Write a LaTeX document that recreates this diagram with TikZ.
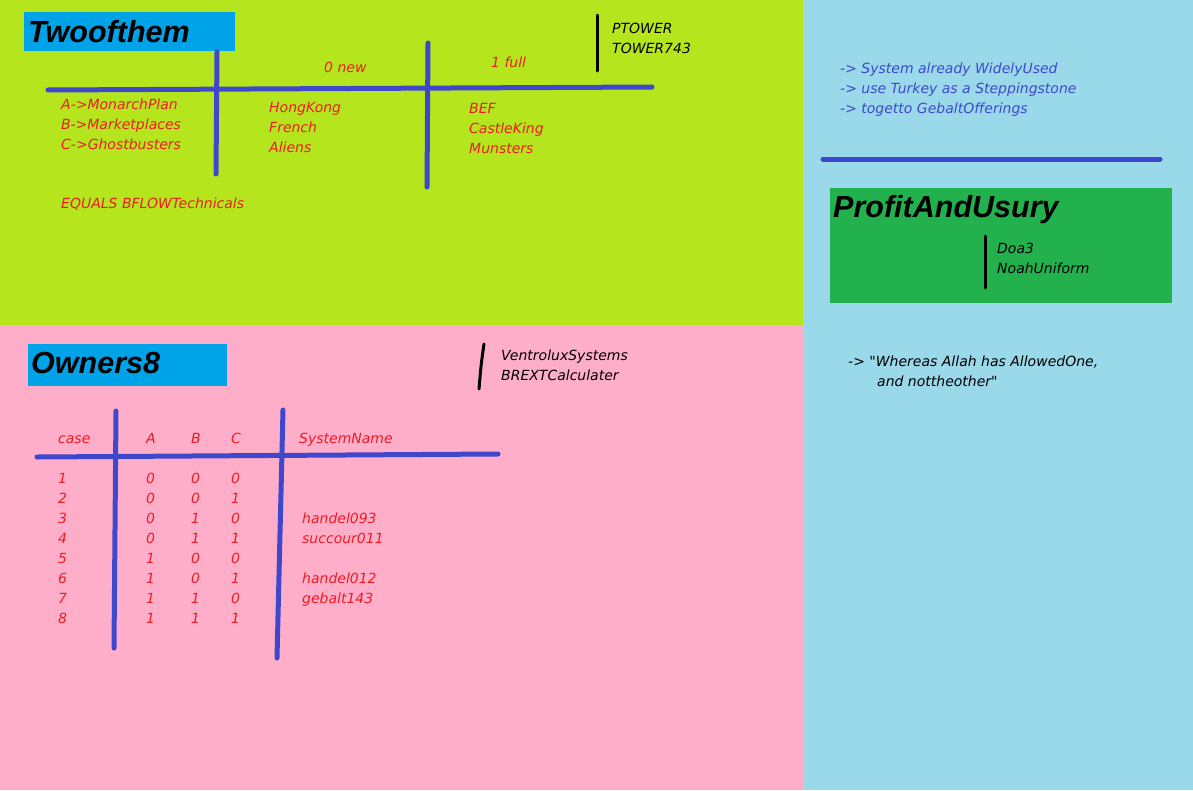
\documentclass[tikz,border=0pt]{standalone}
\usepackage{fontspec}
\setmainfont{Liberation Sans}
\newfontfamily\corpo{DejaVu Sans}
\definecolor{lima}{RGB}{181,230,29}
\definecolor{rosa}{RGB}{255,174,201}
\definecolor{celeste}{RGB}{153,217,234}
\definecolor{azulcaixa}{RGB}{0,162,232}
\definecolor{verdecaixa}{RGB}{34,177,76}
\definecolor{azullinha}{RGB}{63,72,204}
\definecolor{vermelho}{RGB}{237,28,36}

\begin{document}
\begin{tikzpicture}[x=1pt, y=-1pt,
        texto/.style={anchor=base west, inner sep=0pt, font=\corpo\itshape\fontsize{14}{16}\selectfont, text=vermelho},
        textopreto/.style={texto, text=black},
        textoazul/.style={texto, text=azullinha},
        titulo/.style={anchor=base west, inner sep=0pt, font=\fontsize{30.5}{32}\selectfont\bfseries\itshape},
        linha/.style={azullinha, line width=5pt, line cap=round},
        traco/.style={black, line width=3pt, line cap=round},
    ]
    \useasboundingbox (0,0) rectangle (1193,790);

    % fundos
    \fill[lima] (0,0) rectangle (803,325);
    \fill[rosa] (0,325) rectangle (803,790);
    \fill[celeste] (803,0) rectangle (1193,790);

    % Twoofthem
    \fill[azulcaixa] (24,12) rectangle (235,51);
    \node[titulo] (twoofthem) at (28,42) {Twoofthem};

    \draw[linha] (48,90) -- (652,87);
    \draw[linha] (217,52) -- (216,174);
    \draw[linha] (428,43) -- (427,187);

    \node[texto] (novo) at (324,72) {0 new};
    \node[texto] (cheio) at (491,67) {1 full};

    \foreach \t [count=\i] in {A->MonarchPlan, B->Marketplaces, C->Ghostbusters}
        \node[texto] (esq\i) at (61,89+20*\i) {\t};
    \foreach \t [count=\i] in {HongKong, French, Aliens}
        \node[texto] (meio\i) at (269,92+20*\i) {\t};
    \foreach \t [count=\i] in {BEF, CastleKing, Munsters}
        \node[texto] (dir\i) at (469,93+20*\i) {\t};
    \node[texto] (equals) at (61,208) {EQUALS BFLOWTechnicals};

    \draw[traco] (597,15) -- (597,71);
    \node[textopreto] (ptower) at (612,33) {PTOWER};
    \node[textopreto] (tower) at (612,53) {TOWER743};

    % lado direito
    \foreach \t [count=\i] in {-> System already WidelyUsed, -> use Turkey as a Steppingstone, -> togetto GebaltOfferings}
        \node[textoazul] (nota\i) at (840,53+20*\i) {\t};
    \draw[linha] (823,159) -- (1160,159);

    \fill[verdecaixa] (830,188) rectangle (1172,303);
    \node[titulo] (profit) at (833,217) {ProfitAndUsury};
    \draw[traco] (985,236) -- (985,288);
    \node[textopreto] (doa) at (997,253) {Doa3};
    \node[textopreto] (noah) at (997,273) {NoahUniform};

    \node[textopreto] (whereas) at (848,366) {-> "Whereas Allah has AllowedOne,};
    \node[textopreto] (other) at (877,386) {and nottheother"};

    % Owners8
    \fill[azulcaixa] (28,344) rectangle (227,386);
    \node[titulo] (owners) at (31,373) {Owners8};

    \draw[traco] (484,344) .. controls (481,365) .. (479,389);
    \node[textopreto] (ventrolux) at (501,360) {VentroluxSystems};
    \node[textopreto] (brext) at (501,380) {BREXTCalculater};

    \node[texto] (caso) at (58,443) {case};
    \node[texto] (colA) at (146,443) {A};
    \node[texto] (colB) at (191,443) {B};
    \node[texto] (colC) at (231,443) {C};
    \node[texto] (sistema) at (299,443) {SystemName};

    \draw[linha] (37,457) -- (498,454);
    \draw[linha] (116,411) -- (114,648);
    \draw[linha] (283,410) -- (277,658);

    \foreach \a/\b/\c [count=\i] in {0/0/0, 0/0/1, 0/1/0, 0/1/1, 1/0/0, 1/0/1, 1/1/0, 1/1/1} {
        \node[texto] (n\i) at (58,463+20*\i) {\i};
        \node[texto] (a\i) at (146,463+20*\i) {\a};
        \node[texto] (b\i) at (191,463+20*\i) {\b};
        \node[texto] (c\i) at (231,463+20*\i) {\c};
    }
    \foreach \n/\s in {3/handel093, 4/succour011, 6/handel012, 7/gebalt143}
        \node[texto] (sis\n) at (302,463+20*\n) {\s};

\end{tikzpicture}
\end{document}
